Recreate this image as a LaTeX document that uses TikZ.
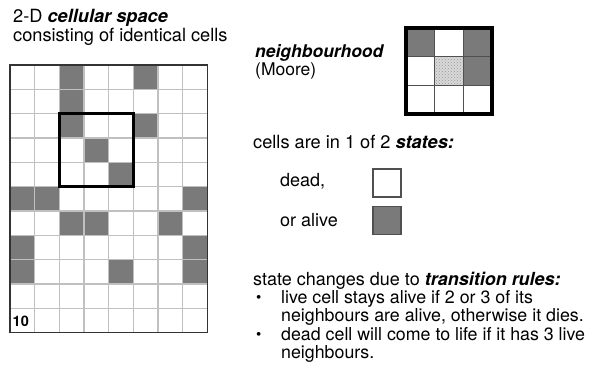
\documentclass[tikz,border=0pt]{standalone}
\usepackage{fontspec}
\setmainfont{TeX Gyre Heros}
\usetikzlibrary{patterns}
\definecolor{cellgray}{RGB}{122,122,122}
\definecolor{gridgray}{RGB}{192,192,192}
\definecolor{nbline}{RGB}{80,80,80}
\begin{document}
\begin{tikzpicture}[x=1pt,y=-1pt,
  txt/.style={anchor=base west,inner sep=0pt,font=\fontsize{17.5}{19}\selectfont},
  toptxt/.style={anchor=base west,inner sep=0pt,font=\fontsize{18.2}{19}\selectfont},
  ruletxt/.style={anchor=base west,inner sep=0pt,font=\fontsize{17.8}{19}\selectfont},
  legendbox/.style={draw=nbline,line width=1.5pt,minimum width=28pt,minimum height=28pt,inner sep=0pt}]
\useasboundingbox (0,0) rectangle (592,367);
\fill[white] (0,0) rectangle (592,367);
% ---- cellular space ----
\def\gx{10}\def\gy{65}\def\cw{24.66}\def\ch{24.34}
\foreach \c/\r in {2/0,5/0,2/1,2/2,5/2,3/3,4/4,0/5,1/5,7/5,2/6,3/6,6/6,0/7,7/7,0/8,4/8,7/8}{
  \fill[cellgray] (\gx+\c*\cw,\gy+\r*\ch) rectangle (\gx+\c*\cw+\cw,\gy+\r*\ch+\ch);
}
\foreach \c in {1,...,7}{
  \draw[gridgray,line width=1.4pt] (\gx+\c*\cw,\gy) -- (\gx+\c*\cw,\gy+11*\ch);
}
\foreach \r in {1,...,10}{
  \draw[gridgray,line width=1.4pt] (\gx,\gy+\r*\ch) -- (\gx+8*\cw,\gy+\r*\ch);
}
\draw[black!80,line width=1.2pt] (\gx,\gy) rectangle (\gx+8*\cw,\gy+11*\ch);
\draw[black,line width=2.6pt] (\gx+2*\cw,\gy+2*\ch) rectangle (\gx+5*\cw,\gy+5*\ch);
\node[anchor=base west,inner sep=0pt,font=\bfseries\fontsize{14.5}{15}\selectfont] (ten) at (12.5,326.5) {10};
% ---- texts top-left ----
\node[toptxt] (t1) at (13,22.5) {2-D \textbf{\textit{cellular space}}};
\node[toptxt] (t2) at (13,41.5) {consisting of identical cells};
% ---- neighbourhood ----
\node[txt] (nb) at (255,57) {\textbf{\textit{neighbourhood}}};
\node[txt] (mo) at (255,75.5) {(Moore)};
\def\nx{406}\def\ny{28}\def\nw{28.67}
\foreach \c/\r in {0/0,2/0,2/1}{
  \fill[cellgray] (\nx+\c*\nw,\ny+\r*\nw) rectangle (\nx+\c*\nw+\nw,\ny+\r*\nw+\nw);
}
\fill[gray!30] (\nx+\nw,\ny+\nw) rectangle (\nx+2*\nw,\ny+2*\nw);
\fill[pattern=crosshatch dots,pattern color=gray!80] (\nx+\nw,\ny+\nw) rectangle (\nx+2*\nw,\ny+2*\nw);
\foreach \i in {1,2}{
  \draw[nbline,line width=1.4pt] (\nx+\i*\nw,\ny) -- (\nx+\i*\nw,\ny+3*\nw);
  \draw[nbline,line width=1.4pt] (\nx,\ny+\i*\nw) -- (\nx+3*\nw,\ny+\i*\nw);
}
\draw[black,line width=4pt] (\nx,\ny) rectangle (\nx+3*\nw,\ny+3*\nw);
% ---- states ----
\node[txt,font=\fontsize{18.2}{19}\selectfont] (st) at (253,148) {cells are in 1 of 2 \textbf{\textit{states:}}};
\node[txt,font=\fontsize{18}{19}\selectfont] (dead) at (280,186.5) {dead,};
\node[txt,font=\fontsize{18}{19}\selectfont] (alive) at (280,226) {or alive};
\node[legendbox,fill=white] (deadbox) at (387,183) {};
\node[legendbox,fill=cellgray] (alivebox) at (387,220.5) {};
% ---- transition rules ----
\node[txt,font=\fontsize{18}{19}\selectfont] (tr) at (253,285) {state changes due to \textbf{\textit{transition rules:}}};
\node[txt,font=\fontsize{15}{19}\selectfont] (b1) at (256,302) {\textbullet};
\node[ruletxt] (r1) at (281,303) {live cell stays alive if 2 or 3 of its};
\node[ruletxt] (r2) at (281,321.5) {neighbours are alive, otherwise it dies.};
\node[txt,font=\fontsize{15}{19}\selectfont] (b2) at (256,339) {\textbullet};
\node[ruletxt] (r3) at (281,340) {dead cell will come to life if it has 3 live};
\node[ruletxt] (r4) at (281,358.5) {neighbours.};
\end{tikzpicture}
\end{document}
